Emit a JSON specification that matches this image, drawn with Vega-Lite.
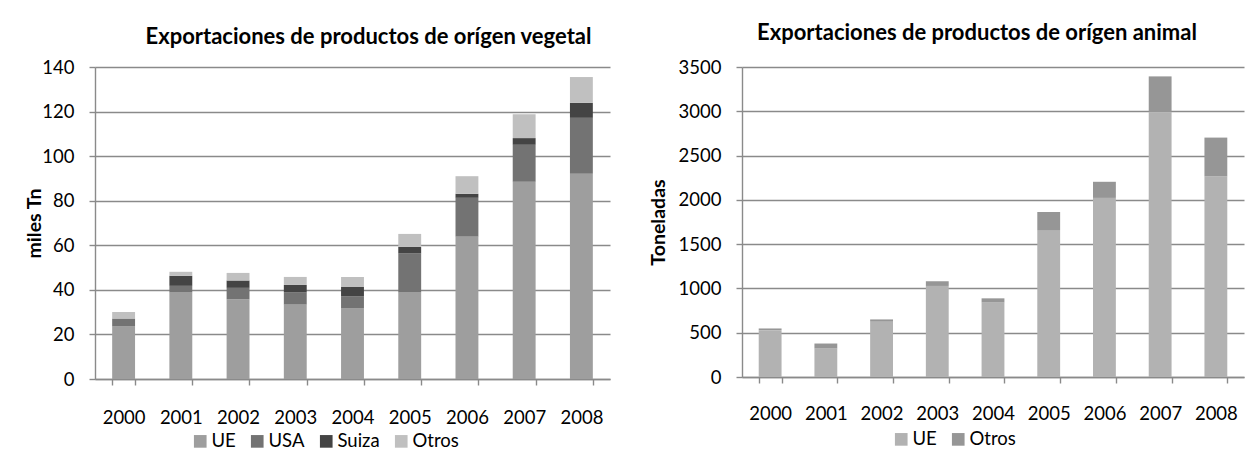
{
  "$schema": "https://vega.github.io/schema/vega-lite/v6.json",
  "background": "white",
  "padding": {"left": 24, "top": 22, "right": 5, "bottom": 5},
  "spacing": 38,
  "datasets": {
    "veg": [
      {"anio": "2000", "destino": "UE", "valor": 23.6},
      {"anio": "2000", "destino": "USA", "valor": 3.6},
      {"anio": "2000", "destino": "Suiza", "valor": 0},
      {"anio": "2000", "destino": "Otros", "valor": 2.9},
      {"anio": "2001", "destino": "UE", "valor": 38.8},
      {"anio": "2001", "destino": "USA", "valor": 3.0},
      {"anio": "2001", "destino": "Suiza", "valor": 4.5},
      {"anio": "2001", "destino": "Otros", "valor": 1.8},
      {"anio": "2002", "destino": "UE", "valor": 35.7},
      {"anio": "2002", "destino": "USA", "valor": 5.2},
      {"anio": "2002", "destino": "Suiza", "valor": 3.3},
      {"anio": "2002", "destino": "Otros", "valor": 3.4},
      {"anio": "2003", "destino": "UE", "valor": 33.4},
      {"anio": "2003", "destino": "USA", "valor": 5.4},
      {"anio": "2003", "destino": "Suiza", "valor": 3.4},
      {"anio": "2003", "destino": "Otros", "valor": 3.6},
      {"anio": "2004", "destino": "UE", "valor": 31.6},
      {"anio": "2004", "destino": "USA", "valor": 5.4},
      {"anio": "2004", "destino": "Suiza", "valor": 4.3},
      {"anio": "2004", "destino": "Otros", "valor": 4.5},
      {"anio": "2005", "destino": "UE", "valor": 38.8},
      {"anio": "2005", "destino": "USA", "valor": 17.5},
      {"anio": "2005", "destino": "Suiza", "valor": 3.0},
      {"anio": "2005", "destino": "Otros", "valor": 5.8},
      {"anio": "2006", "destino": "UE", "valor": 63.9},
      {"anio": "2006", "destino": "USA", "valor": 17.4},
      {"anio": "2006", "destino": "Suiza", "valor": 1.8},
      {"anio": "2006", "destino": "Otros", "valor": 7.9},
      {"anio": "2007", "destino": "UE", "valor": 88.5},
      {"anio": "2007", "destino": "USA", "valor": 16.6},
      {"anio": "2007", "destino": "Suiza", "valor": 3.0},
      {"anio": "2007", "destino": "Otros", "valor": 10.7},
      {"anio": "2008", "destino": "UE", "valor": 92.1},
      {"anio": "2008", "destino": "USA", "valor": 25.1},
      {"anio": "2008", "destino": "Suiza", "valor": 6.7},
      {"anio": "2008", "destino": "Otros", "valor": 11.6}
    ],
    "ani": [
      {"anio": "2000", "destino": "UE", "valor": 529},
      {"anio": "2000", "destino": "Otros", "valor": 19},
      {"anio": "2001", "destino": "UE", "valor": 321},
      {"anio": "2001", "destino": "Otros", "valor": 57},
      {"anio": "2002", "destino": "UE", "valor": 631},
      {"anio": "2002", "destino": "Otros", "valor": 19},
      {"anio": "2003", "destino": "UE", "valor": 1028},
      {"anio": "2003", "destino": "Otros", "valor": 53},
      {"anio": "2004", "destino": "UE", "valor": 843},
      {"anio": "2004", "destino": "Otros", "valor": 45},
      {"anio": "2005", "destino": "UE", "valor": 1659},
      {"anio": "2005", "destino": "Otros", "valor": 204},
      {"anio": "2006", "destino": "UE", "valor": 2022},
      {"anio": "2006", "destino": "Otros", "valor": 182},
      {"anio": "2007", "destino": "UE", "valor": 2990},
      {"anio": "2007", "destino": "Otros", "valor": 404},
      {"anio": "2008", "destino": "UE", "valor": 2264},
      {"anio": "2008", "destino": "Otros", "valor": 439}
    ]
  },
  "hconcat": [
    {
      "width": 515,
      "height": 312,
      "data": {"name": "veg"},
      "transform": [{"calculate": "indexof(['UE','USA','Suiza','Otros'], datum.destino)", "as": "orden"}],
      "title": {"text": "Exportaciones de productos de orígen vegetal", "offset": 9, "dx": 16},
      "mark": {"type": "bar"},
      "encoding": {
        "x": {
          "field": "anio", "type": "nominal", "title": null,
          "scale": {"paddingInner": 0.6, "paddingOuter": 0.3},
          "axis": {"labelAngle": 0, "tickBand": "extent", "labelPadding": 23}
        },
        "y": {
          "field": "valor", "type": "quantitative", "stack": "zero",
          "scale": {"domain": [0, 140], "nice": false},
          "axis": {"values": [0, 20, 40, 60, 80, 100, 120, 140], "format": "d", "title": "miles Tn", "titleX": -61}
        },
        "order": {"field": "orden", "type": "quantitative", "sort": "ascending"},
        "color": {
          "field": "destino", "type": "nominal",
          "sort": ["UE", "USA", "Suiza", "Otros"],
          "scale": {"domain": ["UE", "USA", "Suiza", "Otros"], "range": ["#9e9e9e", "#737373", "#444444", "#c0c0c0"]},
          "legend": {"orient": "none", "legendX": 96, "legendY": 365, "direction": "horizontal", "title": null}
        }
      }
    },
    {
      "width": 502,
      "height": 310,
      "data": {"name": "ani"},
      "transform": [{"calculate": "indexof(['UE','Otros'], datum.destino)", "as": "orden"}],
      "title": {"text": "Exportaciones de productos de orígen animal", "offset": 13, "dx": -16},
      "mark": {"type": "bar"},
      "encoding": {
        "x": {
          "field": "anio", "type": "nominal", "title": null,
          "scale": {"paddingInner": 0.59, "paddingOuter": 0.3},
          "axis": {"labelAngle": 0, "tickBand": "extent", "labelPadding": 21}
        },
        "y": {
          "field": "valor", "type": "quantitative", "stack": "zero",
          "scale": {"domain": [0, 3500], "nice": false},
          "axis": {"values": [0, 500, 1000, 1500, 2000, 2500, 3000, 3500], "format": "d", "title": "Toneladas", "titleX": -84}
        },
        "order": {"field": "orden", "type": "quantitative", "sort": "ascending"},
        "color": {
          "field": "destino", "type": "nominal",
          "sort": ["UE", "Otros"],
          "scale": {"domain": ["UE", "Otros"], "range": ["#b2b2b2", "#969696"]},
          "legend": {"orient": "none", "legendX": 150, "legendY": 363, "direction": "horizontal", "title": null}
        }
      }
    }
  ],
  "resolve": {"scale": {"color": "independent", "y": "independent", "x": "independent"}},
  "config": {
    "font": "Lato",
    "view": {"stroke": null},
    "title": {"fontSize": 22, "fontWeight": "bold", "color": "#000000", "anchor": "middle", "font": "Lato"},
    "axis": {
      "labelFontSize": 18.5, "labelColor": "#000000", "labelFont": "Lato",
      "titleFontSize": 19.5, "titleFontWeight": "bold", "titleColor": "#000000", "titleFont": "Lato",
      "domainColor": "#8a8a8a", "tickColor": "#8a8a8a", "tickSize": 6, "domainWidth": 1.4, "tickWidth": 1.4
    },
    "axisY": {"gridColor": "#8a8a8a", "gridWidth": 1.4, "labelPadding": 15, "titleBaseline": "middle", "titleAlign": "center", "titleAngle": -90},
    "axisX": {"grid": false},
    "legend": {
      "labelFontSize": 18.5, "labelColor": "#000000", "labelFont": "Lato",
      "symbolType": "square", "symbolSize": 160, "symbolStrokeWidth": 0,
      "labelOffset": 2, "columnPadding": 12
    }
  }
}
